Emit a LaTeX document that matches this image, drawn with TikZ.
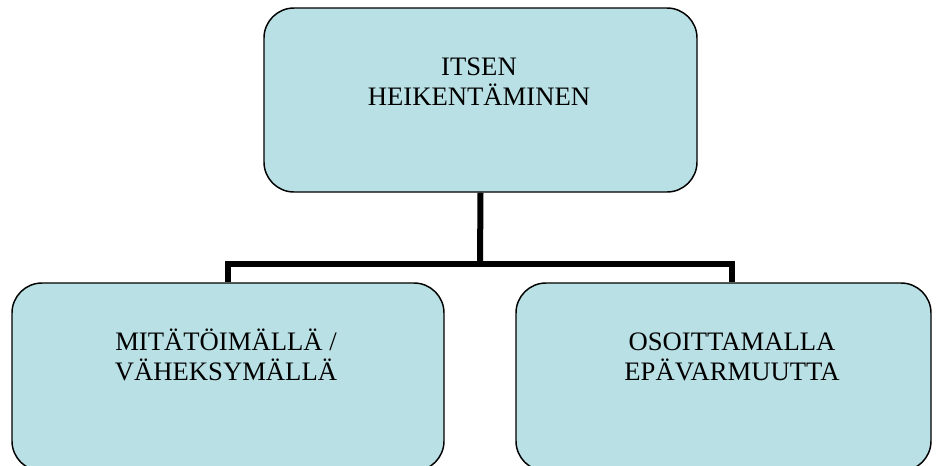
\documentclass[tikz,border=0pt]{standalone}
\usepackage{fontspec}
\setmainfont{Liberation Serif}
\definecolor{boxfill}{RGB}{185,224,228}
\begin{document}
\begin{tikzpicture}[x=0.75pt,y=-0.75pt,
  box/.style={draw=black,line width=1.1pt,fill=boxfill,rounded corners=22.5pt,
    rectangle,inner sep=0pt},
  label/.style={align=center,anchor=base,inner sep=0pt,
    font=\fontsize{20}{22.5}\selectfont},
  conn/.style={draw=black,line width=4.5pt,line join=miter}]
\useasboundingbox (0,0) rectangle (936,465);

% the three boxes
\node[box,minimum width=324.75pt,minimum height=138pt] (top) at (480.5,100) {};
\node[box,minimum width=324pt,minimum height=141pt] (left) at (228,377) {};
\node[box,minimum width=311.25pt,minimum height=141pt] (right) at (723.5,377) {};

% connectors of the tree
\coordinate (j) at (480,264);
\draw[conn] (top.south) -- (j);
\draw[conn] (left.north) |- (j) -| ([xshift=6.4pt]right.north);

% box texts (anchored at the baseline of the last line)
\node[label] (ttop) at (479,105) {ITSEN\\HEIKENTÄMINEN};
\node[label] (tleft) at (226,380) {MITÄTÖIMÄLLÄ /\\VÄHEKSYMÄLLÄ};
\node[label] (tright) at (732,380) {OSOITTAMALLA\\EPÄVARMUUTTA};
\end{tikzpicture}
\end{document}
